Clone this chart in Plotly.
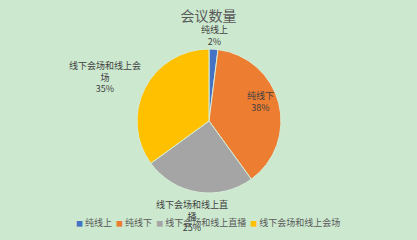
import plotly.graph_objects as go

categories = ["纯线上", "纯线下", "线下会场和线上直播", "线下会场和线上会场"]
values = [2, 38, 25, 35]
colors = ["#4472C4", "#ED7D31", "#A5A5A5", "#FFC000"]
label_lines = ["纯线上", "纯线下", "线下会场和线上直<br>播", "线下会场和线上会<br>场"]

W, H = 417, 240
cx, cy, r = 209, 121, 72
font = "Noto Sans CJK SC"

fig = go.Figure(go.Pie(
    labels=categories, values=values, sort=False, direction="clockwise", rotation=0,
    marker=dict(colors=colors, line=dict(color="#D6EED8", width=1)),
    textinfo="none", hoverinfo="label+percent", showlegend=False,
    domain=dict(x=[(cx - r) / W, (cx + r) / W], y=[(H - cy - r) / H, (H - cy + r) / H]),
))

total = sum(values)
label_pos = [(214, 35), (260, 101), (192, 216), (105, 77)]
anns = []
for (x, y), txt, v in zip(label_pos, label_lines, values):
    anns.append(dict(x=x / W, y=1 - y / H, xref="paper", yref="paper",
                     text=f"{txt}<br>{round(100 * v / total)}%", showarrow=False,
                     font=dict(size=9, color="#404040", family=font),
                     xanchor="center", yanchor="middle", align="center"))

legend_text = "&nbsp;&nbsp;".join(
    f'<span style="color:{c};font-size:7px">■</span> {name}' for name, c in zip(categories, colors))
anns.append(dict(x=208 / W, y=1 - 222 / H, xref="paper", yref="paper", text=legend_text,
                 showarrow=False, font=dict(size=9, color="#595959", family=font),
                 xanchor="center", yanchor="middle"))

fig.update_layout(
    width=W, height=H, margin=dict(l=0, r=0, t=0, b=0),
    paper_bgcolor="#CCE8CF", plot_bgcolor="#CCE8CF",
    title=dict(text="会议数量", x=0.5, xanchor="center", y=1 - 16 / H, yanchor="middle",
               font=dict(size=14, color="#595959", family=font)),
    annotations=anns,
    font=dict(family=font),
)
fig.write_html("out.html")
